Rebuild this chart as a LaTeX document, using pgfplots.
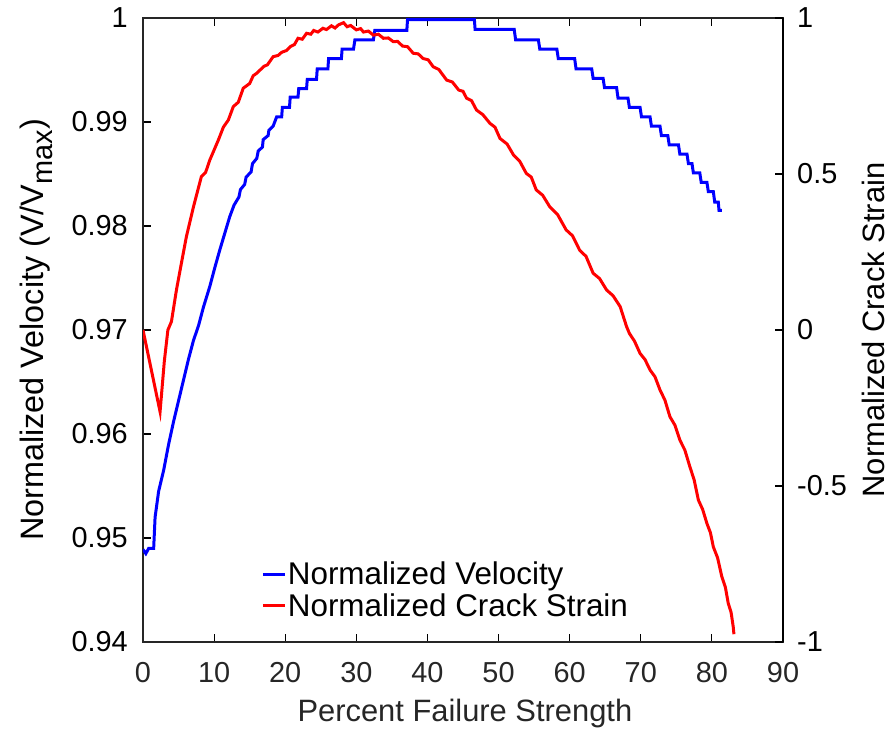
\documentclass[border=0pt]{standalone}
\usepackage{pgfplots}
\pgfplotsset{compat=1.18}
\usepackage{fontspec}
\setmainfont{Liberation Sans}
\definecolor{axgray}{gray}{0.15}
\begin{document}
\begin{tikzpicture}
\pgfplotsset{
  common/.style={
    scale only axis, width=640bp, height=624bp,
    at={(0bp,0bp)}, anchor=south west,
    xmin=0, xmax=90,
    tick align=inside, major tick length=8bp,
    every tick/.style={line width=1.2bp},
    tick label style={font=\fontsize{29}{33}\selectfont},
    label style={font=\fontsize{31}{35}\selectfont},
  }
}
\begin{axis}[common,
  ymin=0.94, ymax=1,
  axis line style={line width=1.5bp},
  x axis line style={draw=axgray},
  ytick pos=left, xtick pos=both,
  xtick={0,10,...,90},
  xticklabels={0,10,20,30,40,50,60,70,80,90},
  xticklabel style={anchor=base, yshift=-40bp, text=axgray},
  ytick={0.94,0.95,0.96,0.97,0.98,0.99,1},
  yticklabels={0.94,0.95,0.96,0.97,0.98,0.99,1},
  yticklabel style={anchor=east, inner sep=0pt, xshift=-15bp},
  xlabel={Percent Failure Strength},
  xlabel style={at={(axis description cs:0.503,-0.1277)}, anchor=base, text=axgray},
  ylabel={Normalized Velocity (V/V\raisebox{-0.3em}{\fontsize{29}{32}\selectfont max})},
  ylabel style={at={(axis description cs:-0.156,0.5)}, rotate=0, anchor=base, font=\fontsize{32.5}{36}\selectfont},
  legend style={at={(axis description cs:0.1847,0.1306)}, anchor=north west, draw=none, fill=none,
    font=\fontsize{31.5}{35}\selectfont, inner sep=0pt, row sep=4bp,
    nodes={inner sep=1.5bp}},
  legend cell align=left,
  legend image code/.code={\draw[#1] (0bp,0bp) -- (22bp,0bp);},
]
\addplot[blue, line width=3bp] coordinates {
(0,0.9489)(0.4,0.9485)(0.8,0.9490)(1.5,0.9490)(1.7,0.9520)(2.2,0.9545)(2.9,0.9565)
(3.6,0.9590)(4.3,0.9612)(5.0,0.9632)(5.7,0.9652)(6.4,0.9672)(7.1,0.9690)(7.8,0.9704)
(8.5,0.9722)(9.4,0.9742)(10.1,0.9760)(10.8,0.9777)(11.5,0.9793)(12.2,0.9809)(12.8,0.9820)
(13.5,0.9828)(13.7,0.9835)(14.3,0.9840)(14.5,0.9847)(15.2,0.9852)(15.4,0.9860)(16.0,0.9865)
(16.2,0.9872)(16.8,0.9876)(16.9,0.9883)(17.6,0.9887)(17.7,0.9892)(18.3,0.9896)
(18.8,0.9905)(19.5,0.9905)(19.6,0.9914)(20.6,0.9914)(20.7,0.9924)(21.8,0.9924)
(21.9,0.9932)(23.0,0.9932)(23.1,0.9941)(24.4,0.9941)(24.5,0.9951)(26.0,0.9951)
(26.1,0.9961)(27.9,0.9961)(28.0,0.9970)(29.6,0.9970)(29.8,0.9979)(32.4,0.9979)
(32.6,0.9988)(37.1,0.9988)(37.2,0.99985)(46.6,0.99985)(46.7,0.9989)(52.2,0.9989)
(52.4,0.9979)(55.6,0.9979)(55.8,0.9970)(58.2,0.9970)(58.4,0.9961)(60.7,0.9961)
(60.9,0.9951)(63.1,0.9951)(63.3,0.9942)(64.7,0.9942)(64.9,0.9933)(66.6,0.9933)
(66.8,0.9923)(68.2,0.9923)(68.4,0.9914)(69.9,0.9914)(70.1,0.9905)(71.3,0.9905)
(71.5,0.9896)(72.7,0.9896)(72.9,0.9887)(73.8,0.9887)(74.0,0.9878)(75.3,0.9878)
(75.5,0.9869)(76.5,0.9869)(76.7,0.9860)(77.2,0.9860)(77.4,0.9851)(78.3,0.9851)
(78.5,0.9842)(79.3,0.9842)(79.5,0.9833)(80.2,0.9833)(80.4,0.9823)(80.9,0.9823)
(81.0,0.9815)(81.4,0.9815)
};
\addlegendentry{Normalized Velocity}
\addlegendimage{red, line width=3bp}
\addlegendentry{Normalized Crack Strain}
\end{axis}
\begin{axis}[common,
  ymin=-1, ymax=1,
  axis x line=none,
  axis y line*=right,
  axis line style={line width=1.5bp},
  ytick={-1,-0.5,0,0.5,1},
  yticklabels={-1,-0.5,0,0.5,1},
  yticklabel style={anchor=west, inner sep=0pt, xshift=14bp},
  ylabel={Normalized Crack Strain},
  ylabel style={at={(axis description cs:1.159,0.5)}, rotate=0, anchor=base},
]
\addplot[red, line width=3bp] coordinates {
(0,0)(2.4,-0.262)(3.0,-0.10)(3.5,0.0)(4.0,0.027)(4.7,0.128)(5.4,0.214)(6.1,0.299)
(7.1,0.395)(8.2,0.491)(8.8,0.505)(9.4,0.545)(10.6,0.609)(11.3,0.650)(12.0,0.673)(12.7,0.716)
(13.4,0.730)(14.1,0.775)(15.0,0.790)(15.5,0.815)(16.0,0.823)(17.0,0.845)(17.5,0.850)(18.3,0.876)
(19.0,0.880)(19.5,0.890)(20.2,0.896)(20.7,0.908)(21.3,0.915)(21.8,0.935)(22.4,0.932)(23.0,0.951)
(23.6,0.948)(24.0,0.960)(24.6,0.955)(25.3,0.967)(25.8,0.963)(26.5,0.975)(27.0,0.968)(27.5,0.978)
(28.2,0.985)(28.7,0.972)(29.2,0.976)(30.0,0.962)(30.6,0.966)(31.0,0.955)(31.7,0.958)(32.4,0.945)
(33.1,0.948)(33.8,0.935)(34.5,0.936)(35.2,0.924)(35.8,0.925)(36.5,0.910)(37.2,0.908)
(38.0,0.887)(38.7,0.885)(39.4,0.870)(40.1,0.866)(40.8,0.844)(41.6,0.835)(42.7,0.801)
(43.5,0.795)(44.4,0.769)(45.0,0.765)(45.5,0.743)(46.2,0.735)(46.9,0.705)(47.8,0.690)
(48.8,0.662)(49.5,0.650)(50.2,0.614)(51.2,0.596)(52.1,0.561)(53.0,0.540)(53.9,0.502)
(54.6,0.490)(55.3,0.449)(56.2,0.432)(57.2,0.395)(58.3,0.370)(59.5,0.321)(60.4,0.302)
(61.4,0.256)(62.3,0.236)(63.3,0.182)(64.2,0.165)(65.2,0.128)(66.1,0.110)(67.1,0.075)
(68.0,0.011)(68.4,-0.011)(69.1,-0.035)(69.9,-0.075)(70.6,-0.095)(71.3,-0.128)(72.0,-0.150)(72.7,-0.192)
(73.4,-0.225)(74.1,-0.278)(74.8,-0.305)(75.5,-0.353)(76.2,-0.385)(76.9,-0.438)(77.5,-0.480)(78.1,-0.545)
(78.7,-0.575)(79.3,-0.620)(79.8,-0.650)(80.2,-0.695)(80.8,-0.730)(81.4,-0.791)(81.9,-0.825)(82.3,-0.876)
(82.7,-0.905)(83.0,-0.951)(83.1,-0.975)
};
\end{axis}
\pgfresetboundingbox
\path[use as bounding box] (-143bp,-87bp) rectangle (748bp,642bp);
\end{tikzpicture}
\end{document}
